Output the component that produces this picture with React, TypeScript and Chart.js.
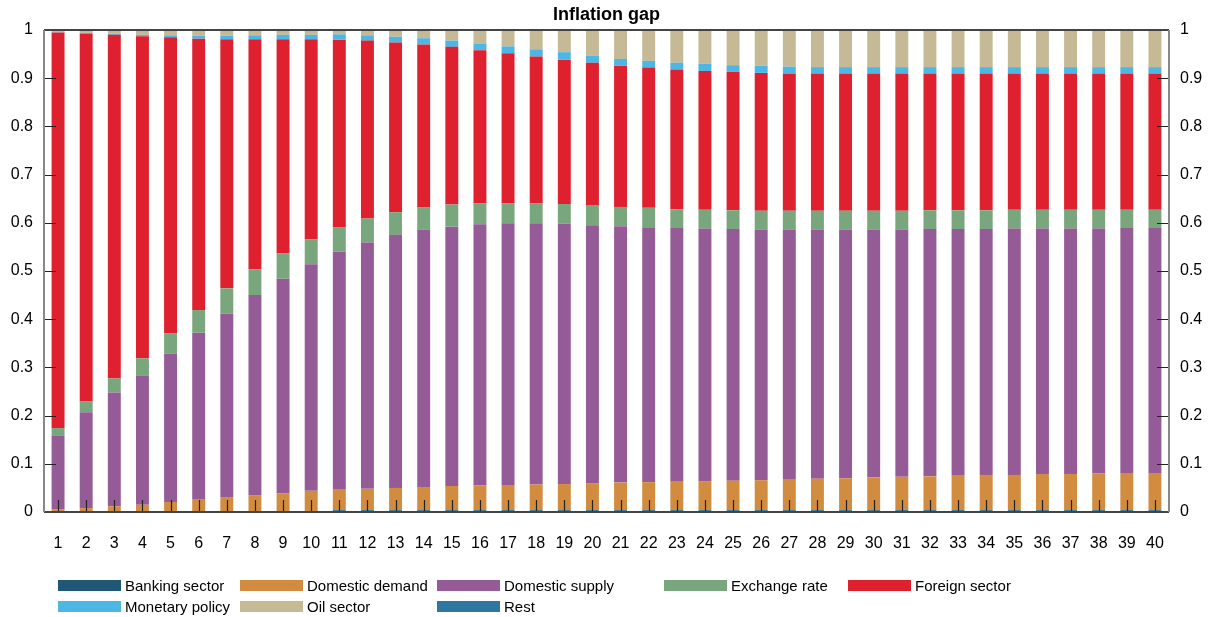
import React, { useEffect, useRef } from "react";
import { Chart, registerables } from "chart.js";

Chart.register(...registerables);

const periods: string[] = Array.from({ length: 40 }, (_, i) => String(i + 1));

const bankingSector = [
  0.001, 0.001, 0.001, 0.001, 0.001, 0.001, 0.001, 0.001, 0.001, 0.001,
  0.002, 0.002, 0.002, 0.002, 0.002, 0.002, 0.002, 0.002, 0.002, 0.002,
  0.002, 0.002, 0.002, 0.002, 0.002, 0.002, 0.002, 0.002, 0.002, 0.002,
  0.002, 0.002, 0.002, 0.002, 0.002, 0.002, 0.002, 0.002, 0.002, 0.002,
];
const rest = [
  0.001, 0.001, 0.001, 0.001, 0.001, 0.001, 0.001, 0.001, 0.001, 0.001,
  0.002, 0.002, 0.002, 0.002, 0.002, 0.002, 0.002, 0.002, 0.002, 0.002,
  0.002, 0.002, 0.002, 0.002, 0.002, 0.002, 0.002, 0.002, 0.002, 0.002,
  0.002, 0.002, 0.002, 0.002, 0.002, 0.002, 0.002, 0.002, 0.002, 0.002,
];
const domesticDemand = [
  0.004, 0.006, 0.010, 0.013, 0.019, 0.025, 0.029, 0.033, 0.037, 0.042,
  0.042, 0.044, 0.046, 0.048, 0.050, 0.051, 0.052, 0.053, 0.054, 0.056,
  0.057, 0.058, 0.059, 0.060, 0.061, 0.062, 0.063, 0.065, 0.066, 0.068,
  0.069, 0.070, 0.071, 0.073, 0.073, 0.075, 0.075, 0.076, 0.077, 0.077,
];
const domesticSupply = [
  0.152, 0.199, 0.236, 0.268, 0.307, 0.345, 0.381, 0.415, 0.445, 0.470,
  0.494, 0.511, 0.525, 0.534, 0.538, 0.542, 0.543, 0.542, 0.540, 0.535,
  0.532, 0.529, 0.526, 0.524, 0.522, 0.520, 0.519, 0.517, 0.516, 0.514,
  0.513, 0.513, 0.512, 0.510, 0.511, 0.509, 0.509, 0.508, 0.508, 0.508,
];
const exchangeRate = [
  0.016, 0.023, 0.029, 0.036, 0.043, 0.047, 0.052, 0.053, 0.053, 0.052,
  0.051, 0.050, 0.047, 0.046, 0.046, 0.043, 0.041, 0.041, 0.041, 0.042,
  0.040, 0.040, 0.039, 0.039, 0.039, 0.039, 0.039, 0.039, 0.039, 0.039,
  0.039, 0.039, 0.039, 0.039, 0.039, 0.039, 0.039, 0.039, 0.038, 0.038,
];
const foreignSector = [
  0.821, 0.762, 0.713, 0.668, 0.614, 0.563, 0.517, 0.478, 0.444, 0.415,
  0.389, 0.369, 0.352, 0.338, 0.327, 0.318, 0.312, 0.305, 0.299, 0.295,
  0.293, 0.291, 0.290, 0.288, 0.287, 0.286, 0.285, 0.284, 0.284, 0.284,
  0.284, 0.283, 0.283, 0.283, 0.282, 0.282, 0.282, 0.282, 0.282, 0.282,
];
const monetaryPolicy = [
  0.002, 0.002, 0.002, 0.003, 0.004, 0.006, 0.007, 0.008, 0.009, 0.009,
  0.011, 0.011, 0.012, 0.013, 0.013, 0.014, 0.014, 0.015, 0.016, 0.015,
  0.014, 0.014, 0.014, 0.015, 0.014, 0.015, 0.014, 0.014, 0.014, 0.014,
  0.014, 0.014, 0.014, 0.014, 0.014, 0.014, 0.014, 0.014, 0.014, 0.014,
];
const oilSector = [
  0.003, 0.006, 0.008, 0.010, 0.011, 0.012, 0.012, 0.011, 0.010, 0.010,
  0.009, 0.011, 0.014, 0.017, 0.022, 0.028, 0.034, 0.040, 0.046, 0.053,
  0.060, 0.064, 0.068, 0.070, 0.073, 0.074, 0.076, 0.077, 0.077, 0.077,
  0.077, 0.077, 0.077, 0.077, 0.077, 0.077, 0.077, 0.077, 0.077, 0.077,
];

const yTicks = [0, 0.1, 0.2, 0.3, 0.4, 0.5, 0.6, 0.7, 0.8, 0.9, 1];

const COLORS = {
  banking: "#1f5775",
  demand: "#d18c40",
  supply: "#955b96",
  exchange: "#79a67c",
  foreign: "#de202f",
  monetary: "#4cb6e4",
  oil: "#c5ba95",
  rest: "#2d77a0",
};

const legendItems = [
  ["Banking sector", COLORS.banking],
  ["Domestic demand", COLORS.demand],
  ["Domestic supply", COLORS.supply],
  ["Exchange rate", COLORS.exchange],
  ["Foreign sector", COLORS.foreign],
  ["Monetary policy", COLORS.monetary],
  ["Oil sector", COLORS.oil],
  ["Rest", COLORS.rest],
];
const legendCols = [58, 240, 437, 664, 848];

const FONT = "'Liberation Sans', Arial, Helvetica, sans-serif";

export default function App() {
  const ref = useRef<HTMLCanvasElement | null>(null);

  useEffect(() => {
    document.body.style.margin = "0";
    const canvas = ref.current;
    if (!canvas) return;

    const frame = {
      id: "frame",
      afterDraw(chart: any) {
        const { ctx, chartArea } = chart;
        const { left, right, top, bottom } = chartArea;
        ctx.save();
        ctx.fillStyle = "#000";
        ctx.font = `bold 18px ${FONT}`;
        ctx.textAlign = "center";
        ctx.textBaseline = "middle";
        ctx.fillText("Inflation gap", (left + right) / 2, 15);
        ctx.strokeStyle = "#222";
        ctx.lineWidth = 1.2;
        const ys = chart.scales.y;
        ctx.beginPath();
        yTicks.forEach((v) => {
          const py = Math.round(ys.getPixelForValue(v)) + 0.5;
          ctx.moveTo(left, py);
          ctx.lineTo(left + 12, py);
          ctx.moveTo(right, py);
          ctx.lineTo(right - 12, py);
        });
        const xs = chart.scales.x;
        periods.forEach((_, i) => {
          const px = Math.round(xs.getPixelForValue(i)) + 0.5;
          ctx.moveTo(px, bottom);
          ctx.lineTo(px, bottom - 12);
        });
        ctx.stroke();
        ctx.lineWidth = 2;
        ctx.strokeStyle = "#444";
        ctx.beginPath();
        ctx.moveTo(left, top);
        ctx.lineTo(right, top);
        ctx.moveTo(left, bottom);
        ctx.lineTo(right, bottom);
        ctx.stroke();
        ctx.strokeStyle = "#888";
        ctx.beginPath();
        ctx.moveTo(left, top);
        ctx.lineTo(left, bottom);
        ctx.moveTo(right, top);
        ctx.lineTo(right, bottom);
        ctx.stroke();
        ctx.restore();
      },
    };

    const mk = (label: string, data: number[], color: string) => ({
      label,
      data,
      backgroundColor: color,
      borderWidth: 0,
      barPercentage: 0.46,
      categoryPercentage: 1,
      yAxisID: "y",
    });

    const chart = new Chart(canvas, {
      type: "bar",
      data: {
        labels: periods,
        datasets: [
          mk("Banking sector", bankingSector, COLORS.banking),
          mk("Rest", rest, COLORS.rest),
          mk("Domestic demand", domesticDemand, COLORS.demand),
          mk("Domestic supply", domesticSupply, COLORS.supply),
          mk("Exchange rate", exchangeRate, COLORS.exchange),
          mk("Foreign sector", foreignSector, COLORS.foreign),
          mk("Monetary policy", monetaryPolicy, COLORS.monetary),
          mk("Oil sector", oilSector, COLORS.oil),
        ],
      },
      options: {
        animation: false,
        responsive: false,
        maintainAspectRatio: false,
        layout: { padding: { top: 30, left: 0, right: 0, bottom: 0 } },
        plugins: {
          legend: { display: false },
          title: { display: false },
          tooltip: { enabled: false },
        },
        scales: {
          x: {
            stacked: true,
            offset: true,
            grid: { display: false, drawTicks: false },
            border: { display: false },
            ticks: {
              color: "#000",
              font: { family: FONT, size: 16 },
              padding: 22,
              maxRotation: 0,
              autoSkip: false,
            },
            afterFit(scale: any) {
              scale.height = 617 - 512;
            },
          },
          y: {
            stacked: true,
            position: "left",
            min: 0,
            max: 1,
            afterBuildTicks(scale: any) {
              scale.ticks = yTicks.map((v) => ({ value: v }));
            },
            grid: { display: false, drawTicks: false },
            border: { display: false },
            ticks: {
              color: "#000",
              font: { family: FONT, size: 16 },
              padding: 11,
              callback: (v: any) => String(Math.round(Number(v) * 10) / 10),
            },
            afterFit(scale: any) {
              scale.width = 44;
            },
          },
          y2: {
            position: "right",
            min: 0,
            max: 1,
            afterBuildTicks(scale: any) {
              scale.ticks = yTicks.map((v) => ({ value: v }));
            },
            grid: { display: false, drawTicks: false },
            border: { display: false },
            ticks: {
              color: "#000",
              font: { family: FONT, size: 16 },
              padding: 11,
              callback: (v: any) => String(Math.round(Number(v) * 10) / 10),
            },
            afterFit(scale: any) {
              scale.width = 1211 - 1169;
            },
          },
        },
      },
      plugins: [frame],
    } as any);

    return () => chart.destroy();
  }, []);

  return (
    <div style={{ position: "relative", width: 1211, height: 617, background: "#fff" }}>
      <canvas ref={ref} width={1211} height={617} style={{ display: "block" }} />
      {legendItems.map(([label, color], i) => {
        const row = i < 5 ? 0 : 1;
        const col = i < 5 ? i : i - 5;
        return (
          <div
            key={label}
            style={{
              position: "absolute",
              left: legendCols[col],
              top: 576 + row * 21,
              height: 18,
              display: "flex",
              alignItems: "center",
              fontFamily: FONT,
              fontSize: 15,
              color: "#000",
              whiteSpace: "nowrap",
            }}
          >
            <span
              style={{
                display: "inline-block",
                width: 63,
                height: 11,
                background: color,
                marginRight: 4,
              }}
            />
            <span>{label}</span>
          </div>
        );
      })}
    </div>
  );
}
